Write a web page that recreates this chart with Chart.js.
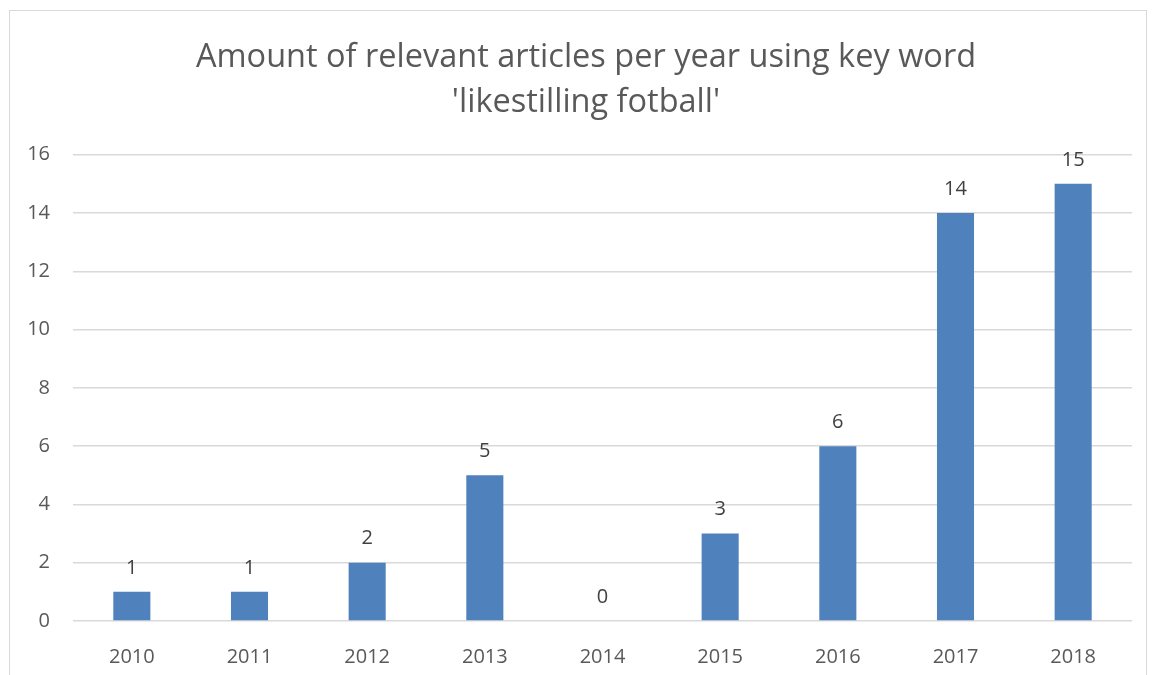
<!DOCTYPE html>
<html>
<head>
<meta charset="utf-8">
<script src="https://cdn.jsdelivr.net/npm/chart.js@4"></script>
<style>
  body { margin: 0; background: #fff; }
  #frame { position: absolute; left: 9px; top: 10px; width: 1136px; height: 700px; border: 1.5px solid #d9d9d9; }
  #wrap { position: absolute; left: 0; top: 0; width: 1153px; height: 675px; }
</style>
</head>
<body>
<div id="frame"></div>
<div id="wrap"><canvas id="c"></canvas></div>
<script>
// years and article counts
const years = ['2010', '2011', '2012', '2013', '2014', '2015', '2016', '2017', '2018'];
const articles = [1, 1, 2, 5, 0, 3, 6, 14, 15];
const titleLines = ['Amount of relevant articles per year using key word', "'likestilling fotball'"];

const fontFam = '"Open Sans", sans-serif';

// draw the value above each bar
const valueLabels = {
  id: 'valueLabels',
  afterDatasetsDraw(chart) {
    const ctx = chart.ctx;
    const meta = chart.getDatasetMeta(0);
    ctx.save();
    ctx.fillStyle = '#404040';
    ctx.font = '20px ' + fontFam;
    ctx.textAlign = 'center';
    ctx.textBaseline = 'bottom';
    meta.data.forEach(function(bar, i) {
      ctx.fillText(articles[i], bar.x, bar.y - 14);
    });
    ctx.restore();
  }
};

// title sits a bit right of the plot centre in the original
const titleShift = {
  id: 'titleShift',
  afterLayout(chart) {
    if (chart.titleBlock) {
      chart.titleBlock.left += 20;
      chart.titleBlock.right += 20;
    }
  }
};

new Chart(document.getElementById('c'), {
  type: 'bar',
  data: {
    labels: years,
    datasets: [{
      data: articles,
      backgroundColor: '#4f81bd',
      barPercentage: 0.315,
      categoryPercentage: 1
    }]
  },
  options: {
    responsive: true,
    maintainAspectRatio: false,
    animation: false,
    layout: { padding: { left: 0, right: 21, top: 0, bottom: 0 } },
    plugins: {
      legend: { display: false },
      tooltip: { enabled: false },
      title: {
        display: true,
        text: titleLines,
        color: '#595959',
        font: { family: fontFam, size: 32.5, weight: 'normal', lineHeight: 1.38 },
        padding: { top: 35, bottom: 30 }
      }
    },
    scales: {
      x: {
        grid: { display: false },
        border: { display: false },
        ticks: { color: '#595959', font: { family: fontFam, size: 20 }, padding: 16 },
        afterFit: function(s) { s.height = 54; }
      },
      y: {
        min: 0,
        max: 16,
        ticks: { stepSize: 2, color: '#595959', font: { family: fontFam, size: 20 }, padding: 23 },
        grid: { color: '#d9d9d9', lineWidth: 1.5, drawTicks: false },
        border: { display: false },
        afterFit: function(s) { s.width = 73; }
      }
    }
  },
  plugins: [valueLabels, titleShift]
});
</script>
</body>
</html>
